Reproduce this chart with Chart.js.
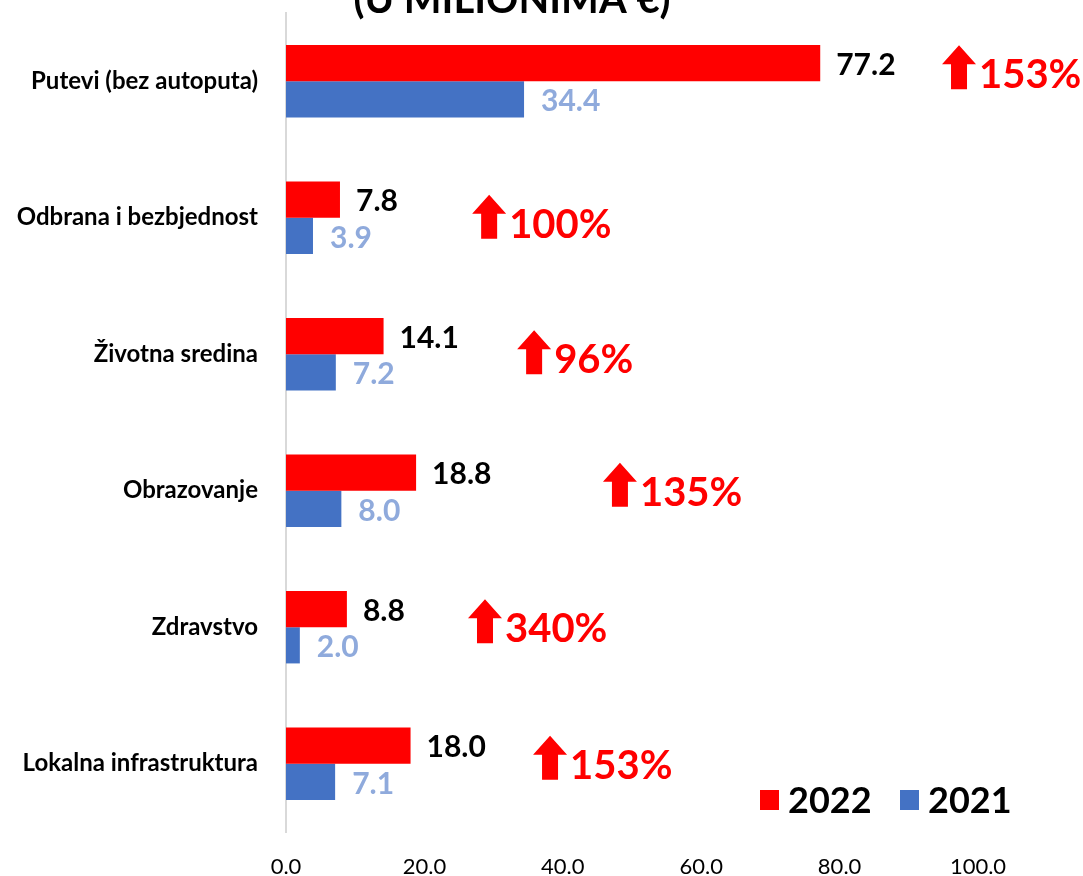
<!DOCTYPE html>
<html>
<head>
<meta charset="utf-8">
<script src="https://cdn.jsdelivr.net/npm/chart.js@4"></script>
<style>
  html, body { margin: 0; padding: 0; background: #fff; }
  #wrap { width: 1083px; height: 876px; }
</style>
</head>
<body>
<div id="wrap"><canvas id="bar-chart"></canvas></div>
<script>
var categories = ['Putevi (bez autoputa)', 'Odbrana i bezbjednost', 'Životna sredina', 'Obrazovanje', 'Zdravstvo', 'Lokalna infrastruktura'];
var values2022 = [77.2, 7.8, 14.1, 18.8, 8.8, 18.0];
var values2021 = [34.4, 3.9, 7.2, 8.0, 2.0, 7.1];
var growth = ['153%', '100%', '96%', '135%', '340%', '153%'];
var xTicks = [0, 20, 40, 60, 80, 100];

var RED = '#ff0000';
var BLUE = '#4472c4';
var FONT = 'Lato, "Open Sans", sans-serif';

// where the growth arrows sit (in axis units) and a small vertical nudge
var arrowAt = [94.8, 26.9, 33.4, 45.8, 26.3, 35.7];
var arrowDy = [-8, 5, 4, 0, 0, 0];

var extras = {
  id: 'extras',
  afterDatasetsDraw: function(chart) {
    var c = chart.ctx;
    var x = chart.scales.x, y = chart.scales.y;
    c.save();

    // value labels
    c.font = 'bold 30px ' + FONT;
    c.textAlign = 'left';
    c.textBaseline = 'middle';
    chart.data.datasets.forEach(function(ds, di) {
      var meta = chart.getDatasetMeta(di);
      meta.data.forEach(function(bar, i) {
        c.fillStyle = di === 0 ? '#000' : '#8faadc';
        c.fillText(ds.data[i].toFixed(1), bar.x + (di === 0 ? 16 : 17), bar.y + 2);
      });
    });

    // growth arrows + percentages
    growth.forEach(function(txt, i) {
      var ax = x.getPixelForValue(arrowAt[i]);
      var cy = y.getPixelForValue(i) + arrowDy[i];
      var top = cy - 6 - 22;
      c.fillStyle = RED;
      c.beginPath();
      c.moveTo(ax + 17, top);
      c.lineTo(ax + 34, top + 19);
      c.lineTo(ax + 25, top + 19);
      c.lineTo(ax + 25, top + 44);
      c.lineTo(ax + 9, top + 44);
      c.lineTo(ax + 9, top + 19);
      c.lineTo(ax, top + 19);
      c.closePath();
      c.fill();
      c.font = 'bold 40px ' + FONT;
      c.textBaseline = 'middle';
      c.fillText(txt, ax + 37, cy + 2);
    });

    // title, cut by the top edge
    c.fillStyle = '#000';
    c.font = 'bold 40px ' + FONT;
    c.textAlign = 'center';
    c.textBaseline = 'alphabetic';
    c.fillText('(U MILIONIMA €)', 512, 13);

    // legend inside the plot
    var items = [[760, RED, '2022'], [900, BLUE, '2021']];
    items.forEach(function(it) {
      c.fillStyle = it[1];
      c.fillRect(it[0], 790, 19, 20);
      c.fillStyle = '#000';
      c.font = 'bold 36px ' + FONT;
      c.textAlign = 'left';
      c.textBaseline = 'middle';
      c.fillText(it[2], it[0] + 28, 801);
    });
    c.restore();
  }
};

new Chart(document.getElementById('bar-chart'), {
  type: 'bar',
  data: {
    labels: categories,
    datasets: [
      { label: '2022', data: values2022, backgroundColor: RED },
      { label: '2021', data: values2021, backgroundColor: BLUE }
    ]
  },
  options: {
    indexAxis: 'y',
    responsive: true,
    maintainAspectRatio: false,
    animation: false,
    categoryPercentage: 0.53,
    barPercentage: 1.0,
    layout: { padding: { top: 13, right: 105, left: 10, bottom: 0 } },
    plugins: {
      legend: { display: false },
      tooltip: { enabled: false }
    },
    scales: {
      x: {
        min: 0,
        max: 100,
        afterBuildTicks: function(scale) {
          scale.ticks = xTicks.map(function(v) { return { value: v }; });
        },
        afterFit: function(scale) {
          scale.height = 44;
          scale.paddingLeft = 0;
          scale.paddingRight = 0;
        },
        grid: { display: false, drawTicks: false },
        border: { display: false },
        ticks: {
          padding: 22,
          color: '#000',
          font: { family: FONT, size: 22 },
          callback: function(v) { return Number(v).toFixed(1); }
        }
      },
      y: {
        afterFit: function(scale) {
          scale.width = 276;
          scale.paddingTop = 0;
          scale.paddingBottom = 0;
        },
        grid: { display: false, drawTicks: false },
        border: { display: true, color: '#d9d9d9', width: 2 },
        ticks: {
          padding: 28,
          color: '#000',
          font: { family: FONT, size: 24, weight: 'bold' }
        }
      }
    }
  },
  plugins: [extras]
});
</script>
</body>
</html>
